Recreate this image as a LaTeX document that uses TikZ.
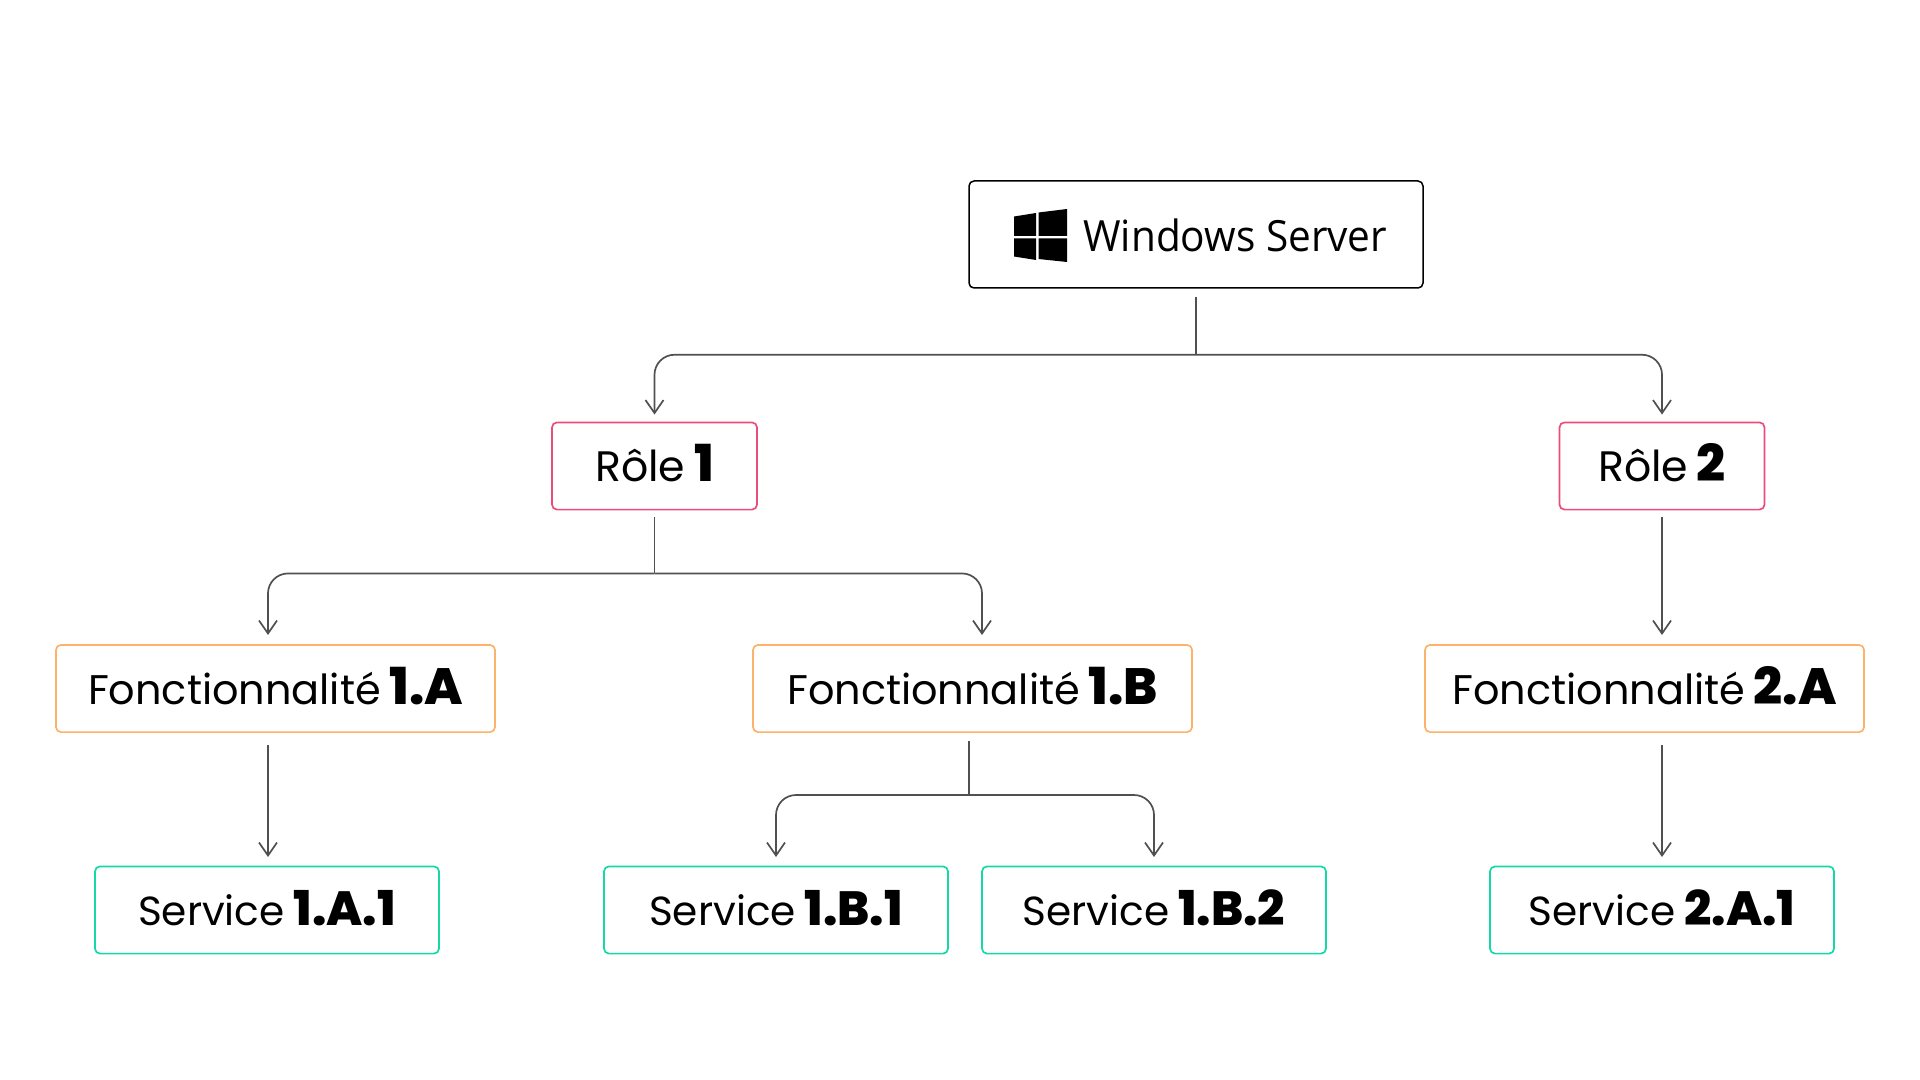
\documentclass[tikz,border=0pt]{standalone}
\usepackage{fontspec}
\setmainfont{Poppins}[BoldFont={Poppins ExtraBold}]
\newfontfamily\winfont{Open Sans}[FakeStretch=0.943]
\usetikzlibrary{arrows.meta,calc}
\definecolor{pinkc}{HTML}{EC4C7C}
\definecolor{orangec}{HTML}{FDB26C}
\definecolor{tealc}{HTML}{14D9A6}
\definecolor{linec}{HTML}{505050}
\newcommand{\bignum}[1]{\hspace{-1.3pt}{\fontsize{25.5}{25.5}\selectfont\bfseries #1}}
\newcommand{\midnum}[1]{\hspace{-1pt}{\fontsize{24}{24}\selectfont\bfseries #1}}
\tikzset{
  x=0.5pt,y=-0.5pt,
  boxbase/.style={draw,line width=.85pt,rounded corners=2.5pt,inner sep=0pt,text=black,
    text height=29.6pt,text depth=14pt,align=center},
  rolebox/.style={boxbase,draw=pinkc,minimum width=102.5pt,minimum height=43pt,font=\fontsize{21.3}{21.3}\selectfont},
  featbox/.style={boxbase,draw=orangec,minimum width=219.5pt,minimum height=43.5pt,font=\fontsize{20.7}{20.7}\selectfont},
  servbox/.style={boxbase,draw=tealc,minimum width=172pt,minimum height=43pt,font=\fontsize{20.3}{20.3}\selectfont},
  winbox/.style={draw=black,line width=.75pt,rounded corners=2.5pt,minimum width=227pt,minimum height=53.5pt,inner sep=0pt},
  wintext/.style={inner sep=0pt,font=\winfont\fontsize{21.5}{21.5}\selectfont,text=black,anchor=base west},
  conn/.style={draw=linec,line width=.85pt,rounded corners=10pt},
  arrowconn/.style={conn,-{Straight Barb[length=6.5pt,width=9pt,line width=.85pt]}},
  logo/.style={fill=black,draw=none}
}
\begin{document}
\begin{tikzpicture}
\useasboundingbox (0,0) rectangle (1920,1080);
\node[winbox] (win) at (1196,234.5) {};
\node[wintext] (wint) at (1083,252) {Windows Server};
\fill[logo] (1014,216.5) -- (1036,213) -- (1036,236) -- (1014,236) -- cycle;
\fill[logo] (1038.5,212.5) -- (1067,209) -- (1067,236) -- (1038.5,236) -- cycle;
\fill[logo] (1014,238.5) -- (1036,238.5) -- (1036,260) -- (1014,256.5) -- cycle;
\fill[logo] (1038.5,238.5) -- (1067,238.5) -- (1067,262) -- (1038.5,259) -- cycle;

\node[rolebox] (r1) at (654.5,466) {Rôle \bignum{1}};
\node[rolebox] (r2) at (1662,466) {Rôle \bignum{2}};
\node[featbox] (f1a) at (275.5,688.5) {Fonctionnalité \bignum{1.A}};
\node[featbox] (f1b) at (972.5,688.5) {Fonctionnalité \bignum{1.B}};
\node[featbox] (f2a) at (1644.5,688.5) {Fonctionnalité \bignum{2.A}};
\node[servbox] (s1a) at (267,910) {Service \midnum{1.A.1}};
\node[servbox] (s1b1) at (776,910) {Service \midnum{1.B.1}};
\node[servbox] (s1b2) at (1154,910) {Service \midnum{1.B.2}};
\node[servbox] (s2a) at (1662,910) {Service \midnum{2.A.1}};

% free ends of the connectors
\coordinate (winout) at ($(win.south)+(0,8)$);
\coordinate (r1in) at ($(r1.north)+(0,-7)$);
\coordinate (r2in) at ($(r2.north)+(0,-7)$);
\coordinate (r1out) at ($(r1.south)+(0,7)$);
\coordinate (r2out) at ($(r2.south)+(0,7)$);
\coordinate (f1ain) at (268,635);
\coordinate (f1bin) at (982,635);
\coordinate (f2ain) at (1662,635);
\coordinate (f1aout) at (268,745);
\coordinate (f1bout) at (969,741);
\coordinate (f2aout) at (1662,745);
\coordinate (s1ain) at (268,857);
\coordinate (s1b1in) at (776,857);
\coordinate (s1b2in) at (1154,857);
\coordinate (s2ain) at (1662,857);

\draw[conn] (winout) -- ++(0,58);
\draw[arrowconn] ($(winout)+(0,58)$) -| (r1in);
\draw[arrowconn] ($(winout)+(0,58)$) -| (r2in);
\draw[conn] (r1out) -- ++(0,56);
\draw[arrowconn] ($(r1out)+(0,56)$) -| (f1ain);
\draw[arrowconn] ($(r1out)+(0,56)$) -| (f1bin);
\draw[arrowconn] (r2out) -- (f2ain);
\draw[arrowconn] (f1aout) -- (s1ain);
\draw[conn] (f1bout) -- ++(0,54);
\draw[arrowconn] ($(f1bout)+(0,54)$) -| (s1b1in);
\draw[arrowconn] ($(f1bout)+(0,54)$) -| (s1b2in);
\draw[arrowconn] (f2aout) -- (s2ain);
\end{tikzpicture}
\end{document}
